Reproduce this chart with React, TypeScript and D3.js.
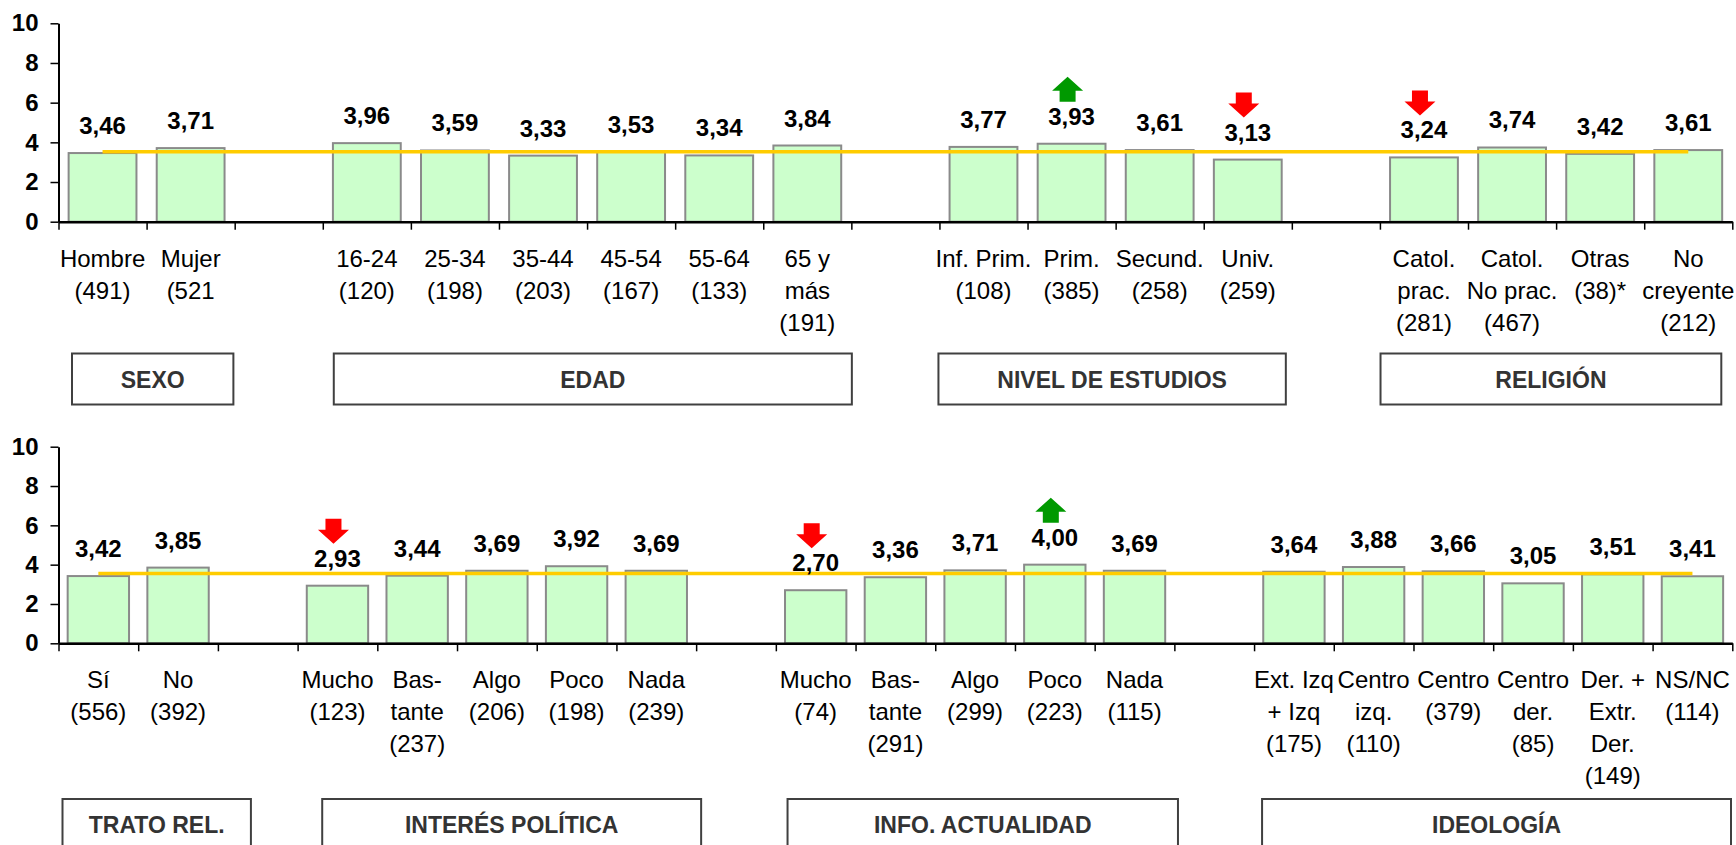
import React, { useEffect, useRef } from "react";
import * as d3 from "d3";

// ---------- DATA ----------
const yTicks = [0, 2, 4, 6, 8, 10];

const topLabels: string[][] = [
  ["Hombre", "(491)"], ["Mujer", "(521"], [],
  ["16-24", "(120)"], ["25-34", "(198)"], ["35-44", "(203)"], ["45-54", "(167)"], ["55-64", "(133)"], ["65 y", "más", "(191)"], [],
  ["Inf. Prim.", "(108)"], ["Prim.", "(385)"], ["Secund.", "(258)"], ["Univ.", "(259)"], [],
  ["Catol.", "prac.", "(281)"], ["Catol.", "No prac.", "(467)"], ["Otras", "(38)*"], ["No", "creyente", "(212)"],
];
const topValues: (number | null)[] = [3.46, 3.71, null, 3.96, 3.59, 3.33, 3.53, 3.34, 3.84, null, 3.77, 3.93, 3.61, 3.13, null, 3.24, 3.74, 3.42, 3.61];
const topMean = 3.53;
const topUp = [11];
const topDown = [13, 15];
const topGroups = [
  { name: "SEXO", from: 0, to: 1 },
  { name: "EDAD", from: 3, to: 8 },
  { name: "NIVEL DE ESTUDIOS", from: 10, to: 13 },
  { name: "RELIGIÓN", from: 15, to: 18 },
];

const bottomLabels: string[][] = [
  ["Sí", "(556)"], ["No", "(392)"], [],
  ["Mucho", "(123)"], ["Bas-", "tante", "(237)"], ["Algo", "(206)"], ["Poco", "(198)"], ["Nada", "(239)"], [],
  ["Mucho", "(74)"], ["Bas-", "tante", "(291)"], ["Algo", "(299)"], ["Poco", "(223)"], ["Nada", "(115)"], [],
  ["Ext. Izq", "+ Izq", "(175)"], ["Centro", "izq.", "(110)"], ["Centro", "(379)"], ["Centro", "der.", "(85)"], ["Der. +", "Extr.", "Der.", "(149)"], ["NS/NC", "(114)"],
];
const bottomValues: (number | null)[] = [3.42, 3.85, null, 2.93, 3.44, 3.69, 3.92, 3.69, null, 2.70, 3.36, 3.71, 4.00, 3.69, null, 3.64, 3.88, 3.66, 3.05, 3.51, 3.41];
const bottomMean = 3.55;
const bottomUp = [12];
const bottomDown = [3, 9];
const bottomGroups = [
  { name: "TRATO REL.", from: 0, to: 1 },
  { name: "INTERÉS POLÍTICA", from: 3, to: 7 },
  { name: "INFO. ACTUALIDAD", from: 9, to: 13 },
  { name: "IDEOLOGÍA", from: 15, to: 20 },
];

// ---------- LAYOUT / STYLE ----------
const W = 1736;
const H = 845;
const FONT = "'Liberation Sans', Arial, Helvetica, sans-serif";
const SX = 1.0;

const panels = [
  {
    labels: topLabels, values: topValues, mean: topMean, up: topUp, down: topDown, groups: topGroups,
    x0: 58.5, x1: 1732.3, yBase: 221.7, yTop: 23.3, boxTop: 353.5, boxBottom: 404.5,
    insets: [[13.5, -1.3], [11, 0.5], [-1, -6], [0.6, -11]],
  },
  {
    labels: bottomLabels, values: bottomValues, mean: bottomMean, up: bottomUp, down: bottomDown, groups: bottomGroups,
    x0: 58.5, x1: 1732.3, yBase: 643.3, yTop: 446.7, boxTop: 799, boxBottom: 870,
    insets: [[4, 33], [24.6, 5], [11.7, 3.6], [8, -1.3]],
  },
];

function SText(props: { x: number; y: number; children: React.ReactNode; size: number; bold?: boolean; fill?: string; anchor?: string }) {
  const { x, y, children, size, bold, fill, anchor } = props;
  return (
    <text
      transform={`translate(${x},${y}) scale(${SX},1)`}
      fontFamily={FONT}
      fontSize={size}
      fontWeight={bold ? "bold" : "normal"}
      fill={fill || "#000"}
      textAnchor={anchor || "middle"}
    >
      {children}
    </text>
  );
}

function arrowPath(cx: number, top: number, dir: "up" | "down") {
  const w = 31, h = 25, sw = 16, hh = 14;
  if (dir === "down") {
    return `M${cx - sw / 2},${top}L${cx + sw / 2},${top}L${cx + sw / 2},${top + h - hh}L${cx + w / 2},${top + h - hh}L${cx},${top + h}L${cx - w / 2},${top + h - hh}L${cx - sw / 2},${top + h - hh}Z`;
  }
  return `M${cx},${top}L${cx + w / 2},${top + hh}L${cx + sw / 2},${top + hh}L${cx + sw / 2},${top + h}L${cx - sw / 2},${top + h}L${cx - sw / 2},${top + hh}L${cx - w / 2},${top + hh}Z`;
}

function Panel({ p }: { p: (typeof panels)[number] }) {
  const yAxisRef = useRef<SVGGElement>(null);
  const xAxisRef = useRef<SVGGElement>(null);
  const n = p.labels.length;
  const idx = d3.range(n);
  const x = d3.scaleBand<number>().domain(idx).range([p.x0, p.x1]).paddingInner(0.23).paddingOuter(0.115);
  const xEdge = d3.scaleLinear().domain([0, n]).range([p.x0, p.x1]);
  const y = d3.scaleLinear().domain([0, 10]).range([p.yBase, p.yTop]);
  const center = (i: number) => (x(i) as number) + x.bandwidth() / 2;

  useEffect(() => {
    const ya = d3.select(yAxisRef.current!);
    ya.selectAll("*").remove();
    ya.call(d3.axisLeft(y).tickValues(yTicks).tickSize(8).tickSizeOuter(0).tickPadding(12).tickFormat(d3.format("d")));
    ya.select(".domain").attr("stroke", "#000").attr("stroke-width", 2);
    ya.selectAll(".tick line").attr("stroke", "#000").attr("stroke-width", 1.5);
    ya.selectAll(".tick text")
      .attr("font-family", FONT).attr("font-size", 24).attr("font-weight", "bold").attr("fill", "#000");

    const xa = d3.select(xAxisRef.current!);
    xa.selectAll("*").remove();
    xa.call(d3.axisBottom(xEdge).tickValues(d3.range(n + 1)).tickSize(8).tickSizeOuter(0).tickFormat(() => ""));
    xa.select(".domain").attr("stroke", "#000").attr("stroke-width", 2.5);
    xa.selectAll(".tick line").attr("stroke", "#000").attr("stroke-width", 1.5);
  });

  const meanLine = d3.line<number>().x((i) => center(i)).y(() => y(p.mean));
  const lineStep = 32;
  const firstBase = p.yBase + 45;

  return (
    <g>
      {p.values.map((v, i) =>
        v == null ? null : (
          <rect key={"b" + i} x={x(i)} y={y(v)} width={x.bandwidth()} height={y(0) - y(v)}
            fill="#CCFFCC" stroke="#8A8A8A" strokeWidth={2} />
        )
      )}
      <g ref={xAxisRef} transform={`translate(0,${p.yBase})`} />
      <g ref={yAxisRef} transform={`translate(${p.x0},0)`} />
      <path d={meanLine([0, n - 1]) || ""} stroke="#FFCC00" strokeWidth={3.5} fill="none" />
      {p.values.map((v, i) =>
        v == null ? null : (
          <SText key={"v" + i} x={center(i)} y={y(v) - 19} size={24} bold>
            {d3.format(".2f")(v).replace(".", ",")}
          </SText>
        )
      )}
      {p.down.map((i) => (
        <path key={"d" + i} d={arrowPath(center(i) - 4, y(p.values[i] as number) - 19 - 17 - 6 - 25, "down")} fill="#FF0000" />
      ))}
      {p.up.map((i) => (
        <path key={"u" + i} d={arrowPath(center(i) - 4, y(p.values[i] as number) - 19 - 17 - 6 - 25, "up")} fill="#009900" />
      ))}
      {p.labels.map((lines, i) =>
        lines.map((t, k) => (
          <SText key={"c" + i + "-" + k} x={center(i)} y={firstBase + k * lineStep} size={24}>
            {t}
          </SText>
        ))
      )}
      {p.groups.map((g, gi) => {
        const left = xEdge(g.from) + p.insets[gi][0];
        const right = xEdge(g.to + 1) + p.insets[gi][1];
        return (
          <g key={"g" + gi}>
            <rect x={left} y={p.boxTop} width={right - left} height={p.boxBottom - p.boxTop}
              fill="#fff" stroke="#404040" strokeWidth={2} />
            <SText x={(left + right) / 2} y={p.boxTop + 34} size={23} bold fill="#333">
              {g.name}
            </SText>
          </g>
        );
      })}
    </g>
  );
}

export default function App() {
  return (
    <div style={{ position: "absolute", left: 0, top: 0, width: W, height: H, overflow: "hidden", background: "#fff" }}>
      <svg width={W} height={H} style={{ display: "block" }}>
        <rect width={W} height={H} fill="#fff" />
        {panels.map((p, i) => (
          <Panel key={i} p={p} />
        ))}
      </svg>
    </div>
  );
}
